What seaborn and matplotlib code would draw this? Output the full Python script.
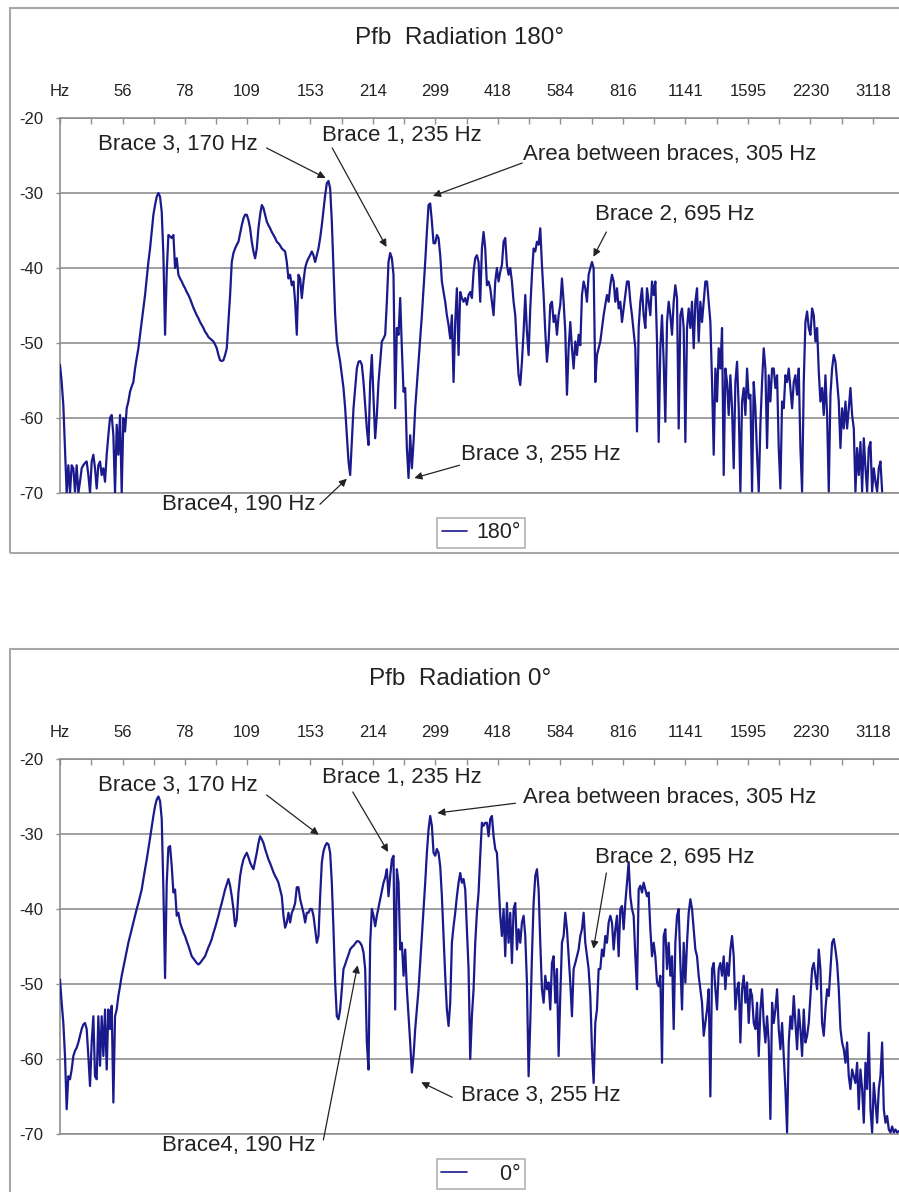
import numpy as np
import pandas as pd
import matplotlib
matplotlib.use('Agg')
import matplotlib.pyplot as plt
from matplotlib.patches import Rectangle
from matplotlib.ticker import FixedLocator, NullFormatter
import seaborn as sns

# frequency axis (log spaced bins, labels every 37.5 bins)
tick_labels = ['Hz', '56', '78', '109', '153', '214', '299', '418', '584',
               '816', '1141', '1595', '2230', '3118']
tick_freqs = [40, 56, 78, 109, 153, 214, 299, 418, 584, 816, 1141, 1595, 2230, 3118]
start_freq = 40
label_ratio = 1.398
bins_per_label = 37.5
y_ticks = [-20, -30, -40, -50, -60, -70]

# level in dB, 180 degrees
db_180 = [
    -52.9, -55.2, -58.3, -64.0, -70.0, -66.3, -70.0, -66.3, -66.7, -69.8,
    -66.3, -70.0, -68.5, -66.7, -66.3, -66.0, -65.8, -67.6, -70.0, -65.8,
    -64.9, -66.7, -69.4, -66.3, -65.8, -67.6, -66.7, -68.5, -64.9, -62.3,
    -60.0, -59.6, -62.3, -70.0, -60.9, -64.9, -59.6, -70.0, -60.0, -61.8,
    -58.7, -57.8, -56.5, -55.8, -55.2, -53.4, -52.0, -50.7, -48.9, -47.2,
    -45.4, -43.6, -41.4, -39.2, -37.4, -35.2, -32.9, -31.6, -30.5, -30.0,
    -30.5, -32.5, -38.3, -48.9, -40.5, -35.6, -35.8, -36.0, -35.6, -40.0,
    -38.7, -40.9, -41.4, -41.8, -42.3, -42.7, -43.2, -43.6, -44.1, -44.7,
    -45.3, -45.8, -46.3, -46.7, -47.2, -47.6, -48.0, -48.5, -48.8, -49.2,
    -49.4, -49.6, -49.8, -50.2, -50.7, -51.6, -52.3, -52.4, -52.3, -51.6,
    -50.7, -47.2, -43.6, -39.2, -38.0, -37.4, -36.9, -36.5, -35.4, -34.3,
    -33.4, -32.9, -32.9, -33.6, -34.7, -36.5, -37.8, -38.7, -37.4, -34.7,
    -32.9, -31.6, -32.0, -32.9, -33.8, -34.3, -34.7, -35.2, -35.6, -36.0,
    -36.5, -36.7, -37.0, -37.4, -37.6, -37.8, -39.2, -41.4, -40.9, -42.3,
    -41.8, -44.5, -48.9, -40.9, -41.4, -44.0, -41.8, -40.0, -39.2, -38.7,
    -38.3, -37.8, -38.3, -39.2, -38.3, -37.4, -36.0, -34.3, -32.3, -30.3,
    -28.7, -28.4, -29.4, -33.8, -40.0, -46.3, -49.8, -51.2, -52.5, -54.3,
    -56.0, -58.7, -62.3, -65.8, -67.6, -63.2, -58.7, -56.0, -53.4, -52.5,
    -52.4, -52.9, -55.2, -58.3, -61.4, -63.6, -55.2, -51.6, -57.4, -62.7,
    -59.6, -55.2, -52.5, -49.8, -49.4, -48.9, -44.5, -39.2, -38.0, -38.7,
    -40.9, -58.7, -48.0, -48.9, -44.0, -50.7, -56.5, -56.0, -64.0, -68.0,
    -62.3, -66.7, -63.2, -58.7, -55.6, -52.5, -49.4, -46.3, -42.7, -39.2,
    -35.2, -31.6, -31.4, -33.8, -36.7, -36.7, -35.6, -36.0, -38.3, -41.8,
    -43.2, -44.5, -46.3, -47.6, -49.4, -46.3, -55.2, -47.2, -42.7, -51.6,
    -43.2, -44.0, -44.5, -44.0, -44.9, -43.6, -43.2, -44.0, -40.5,
    -38.7, -38.3, -39.2, -44.5, -37.4, -35.2, -37.4, -42.3, -41.8, -42.7,
    -44.5, -46.3, -41.8, -40.0, -41.8, -40.5, -39.6, -36.5, -36.0, -39.6,
    -40.9, -40.0, -41.8, -44.5, -46.3, -50.7, -54.3, -55.6, -52.5, -48.5,
    -43.6, -48.5, -51.6, -45.4, -40.9, -37.4, -37.8, -36.5, -36.9, -34.7,
    -39.6, -43.6, -48.5, -52.5, -49.8, -44.9, -44.5, -47.2, -46.3, -48.9,
    -46.3, -44.9, -41.4, -44.5, -48.5, -56.9, -50.7, -47.2, -50.7, -53.4,
    -49.8, -51.6, -48.9, -50.3, -43.6, -41.8, -42.7, -44.5, -40.9, -40.0,
    -39.2, -40.0, -55.2, -51.6, -50.7, -49.8, -48.0, -46.3, -44.9, -43.6,
    -44.5, -42.3, -40.9, -41.8, -44.5, -42.7, -45.4, -44.5, -47.2, -45.4,
    -43.6, -41.8, -41.8, -44.5, -46.3, -48.5, -50.7, -61.8, -48.0, -44.5,
    -42.7, -46.3, -48.0, -42.7, -44.5, -46.3, -41.8, -43.6, -41.8, -49.8,
    -63.2, -50.7, -46.3, -52.5, -60.5, -47.2, -44.5, -46.3, -48.9, -44.5,
    -42.3, -44.0, -61.4, -46.3, -45.4, -48.0, -63.2, -48.0, -45.4, -48.0,
    -44.5, -50.7, -44.5, -42.7, -49.8, -44.5, -47.2, -44.5, -41.8, -41.8,
    -44.5, -47.2, -55.2, -64.9, -53.4, -57.8, -50.7, -53.4, -48.0, -67.6,
    -53.4, -55.2, -59.6, -54.3, -58.7, -66.7, -55.2, -52.5, -58.7, -69.8,
    -57.8, -56.0, -59.6, -53.4, -57.4, -56.9, -69.8, -55.2, -58.7, -64.9,
    -69.8, -60.9, -55.2, -50.7, -53.4, -64.0, -54.3, -57.8, -53.4, -53.4,
    -56.0, -54.3, -64.0, -69.4, -57.8, -58.7, -54.3, -55.2, -53.4, -56.0,
    -58.7, -55.2, -54.3, -56.9, -53.4, -64.0, -69.8, -55.2, -47.2, -45.8,
    -48.0, -48.9, -45.4, -46.3, -49.8, -48.0, -53.8, -57.8, -56.0, -59.6,
    -54.3, -59.6, -69.8, -56.9, -53.4, -51.6, -52.5, -55.2, -57.8, -64.0,
    -58.7, -61.4, -57.8, -61.4, -58.7, -56.0, -59.6, -61.4, -69.8, -64.0,
    -67.6, -63.2, -69.8, -62.7, -66.7, -69.8, -64.0, -63.2, -69.8, -66.7,
    -68.5, -69.8, -66.7, -65.8, -69.8,
]

# level in dB, 0 degrees
db_0 = [
    -49.4, -52.5, -55.2, -59.6, -66.7, -62.3, -62.7, -61.4, -59.6, -58.9,
    -58.5, -57.8, -56.9, -56.0, -55.4, -55.2, -56.0, -59.6, -63.6, -57.8,
    -54.3, -62.3, -62.7, -54.3, -60.9, -54.3, -59.6, -53.4, -61.4, -53.4,
    -56.0, -52.9, -65.8, -54.3, -53.4, -51.6, -50.3, -48.9, -47.8, -46.7,
    -45.6, -44.5, -43.6, -42.7, -41.8, -40.9, -40.0, -39.2, -38.3, -37.4,
    -36.0, -34.7, -33.4, -32.0, -30.5, -28.9, -27.6, -26.3, -25.4, -25.0,
    -25.6, -28.0, -37.4, -49.2, -36.5, -31.8, -31.6, -34.3, -37.8, -37.4,
    -40.9, -40.5, -41.8, -42.5, -43.1, -43.6, -44.3, -44.9, -45.6, -46.3,
    -46.6, -46.9, -47.2, -47.4, -47.2, -46.9, -46.6, -46.3, -45.7, -45.1,
    -44.6, -44.0, -43.2, -42.5, -41.7, -40.9, -40.0, -39.2, -38.3, -37.4,
    -36.7, -36.0, -36.9, -38.3, -40.0, -42.3, -41.4, -37.8, -35.6, -34.3,
    -33.4, -32.9, -32.5, -33.1, -33.8, -34.3, -34.7, -33.6, -32.5, -31.2,
    -30.3, -30.7, -31.2, -32.0, -32.7, -33.4, -33.9, -34.5, -35.1, -35.6,
    -36.0, -36.5, -37.4, -38.3, -40.9, -42.5, -41.8, -40.5, -41.8, -40.5,
    -40.0, -39.2, -37.1, -37.1, -38.7, -39.6, -40.5, -41.8, -40.5, -40.5,
    -40.0, -40.0, -40.9, -42.7, -44.5, -43.6, -38.3, -33.8, -32.3, -31.6,
    -31.2, -31.4, -32.5, -36.5, -42.7, -49.8, -54.3, -54.7, -53.4, -50.7,
    -48.0, -47.4, -46.7, -46.1, -45.4, -45.1, -44.9, -44.6, -44.3, -44.3,
    -44.5, -44.9, -45.8, -48.0, -57.8, -61.4, -44.5, -40.0, -40.9, -42.3,
    -40.9, -39.8, -38.7, -37.6, -36.5, -35.8, -34.7, -38.3, -35.6, -33.4,
    -32.9, -53.4, -34.7, -36.5, -45.4, -44.5, -48.9, -45.4, -50.7, -54.3,
    -57.8, -61.8, -59.6, -56.0, -53.4, -50.7, -47.2, -43.6, -40.0, -36.5,
    -32.5, -29.4, -27.6, -28.9, -32.5, -32.9, -32.0, -32.5, -34.3, -38.3,
    -43.6, -48.9, -53.4, -55.6, -52.5, -44.5, -42.3, -40.5, -38.3, -36.5,
    -35.2, -36.5, -36.0, -37.4, -42.7, -48.0, -60.0, -54.3, -50.7,
    -44.5, -40.5, -37.8, -32.9, -28.5, -28.9, -28.5, -28.5, -30.3, -28.0,
    -27.6, -30.3, -32.0, -32.5, -36.5, -40.9, -43.6, -40.0, -46.3, -39.2,
    -44.5, -40.5, -47.2, -40.0, -39.2, -45.4, -42.7, -44.5, -41.8, -40.9,
    -43.6, -49.8, -62.3, -55.2, -46.3, -39.2, -35.6, -34.7, -37.4, -44.5,
    -50.7, -52.5, -48.9, -50.7, -49.8, -53.4, -47.2, -46.3, -52.5, -48.0,
    -59.6, -51.6, -44.5, -43.6, -40.5, -42.7, -46.3, -49.8, -54.3, -48.0,
    -47.2, -46.3, -45.4, -43.6, -42.7, -40.5, -44.5, -46.3, -48.0, -51.6,
    -58.7, -63.2, -55.2, -53.4, -48.0, -48.0, -45.4, -46.3, -43.6, -44.5,
    -41.8, -40.9, -41.8, -45.4, -42.7, -40.9, -46.3, -40.0, -39.6, -42.7,
    -39.2, -36.5, -33.8, -38.3, -40.0, -40.9, -46.3, -50.7, -37.4, -36.9,
    -37.8, -36.5, -37.4, -38.3, -37.8, -42.7, -46.3, -44.5, -46.3, -49.8,
    -50.3, -48.9, -60.5, -43.6, -42.7, -48.0, -44.5, -48.9, -46.3, -56.0,
    -44.5, -40.9, -40.0, -47.2, -53.4, -44.5, -49.8, -44.5, -40.5, -38.7,
    -40.0, -42.7, -45.4, -46.3, -48.9, -50.7, -52.5, -56.9, -55.2, -53.4,
    -50.7, -65.0, -48.0, -47.2, -50.7, -53.4, -48.0, -47.2, -48.9, -46.3,
    -50.7, -47.2, -48.9, -45.4, -43.6, -46.3, -53.4, -50.7, -49.8, -57.8,
    -50.7, -48.9, -52.5, -49.8, -55.2, -50.7, -51.6, -55.2, -56.0, -52.5,
    -59.6, -53.4, -50.7, -55.2, -57.8, -54.3, -57.8, -68.0, -52.5, -55.2,
    -53.4, -50.7, -56.0, -58.7, -55.2, -59.6, -64.0, -69.8, -57.8, -54.3,
    -56.0, -51.6, -55.2, -58.7, -53.4, -56.0, -59.6, -53.4, -57.8, -56.9,
    -55.2, -51.6, -48.0, -47.2, -48.9, -50.7, -45.4, -48.0, -55.2, -56.9,
    -53.4, -50.7, -51.6, -48.0, -44.5, -44.0, -45.4, -47.2, -50.7, -56.0,
    -57.8, -58.7, -60.5, -57.8, -62.3, -64.0, -61.4, -62.3, -63.2, -60.5,
    -66.7, -61.4, -64.0, -68.5, -60.5, -64.0, -56.5, -66.7, -69.8, -63.2,
    -65.8, -68.5, -64.0, -62.3, -57.8, -66.7, -68.5, -67.6, -69.4, -69.8,
    -69.0, -69.8, -69.4, -69.8, -69.6,
]

# annotations: (text, text pos (Hz, dB), arrow start (Hz, dB), arrow tip (Hz, dB))
notes_180 = [
    ('Brace 3, 170 Hz', (49, -23.5), (121, -24.0), (166, -28.0)),
    ('Brace 1, 235 Hz', (163, -22.4), (172, -24.0), (230, -37.2)),
    ('Area between braces, 305 Hz', (479, -24.9), (476, -26.0), (295, -30.4)),
    ('Brace 2, 695 Hz', (704, -32.9), (747, -35.2), (697, -38.5)),
    ('Brace4, 190 Hz', (69, -71.5), (161, -71.5), (186, -68.1)),
    ('Brace 3, 255 Hz', (342, -64.9), (340, -66.3), (267, -68.0)),
]
notes_0 = [
    ('Brace 3, 170 Hz', (49, -23.5), (121, -24.8), (160, -30.1)),
    ('Brace 1, 235 Hz', (163, -22.4), (192, -24.4), (232, -32.4)),
    ('Area between braces, 305 Hz', (479, -25.1), (459, -25.9), (302, -27.2)),
    ('Brace 2, 695 Hz', (704, -33.1), (747, -35.2), (697, -45.3)),
    ('Brace4, 190 Hz', (69, -71.5), (164, -70.8), (197, -47.5)),
    ('Brace 3, 255 Hz', (342, -64.8), (327, -65.1), (277, -63.1)),
]

NAVY = '#1a1a8c'
GRID = '#8f8f8f'
TEXT = '#222222'
W, H = 899, 1192

sns.set_theme(style='white')
plt.rcParams['font.family'] = ['Liberation Sans', 'DejaVu Sans']
plt.rcParams['axes.unicode_minus'] = False


def spectrum_df(values):
    '''bin frequencies are log spaced, values as read'''
    n = len(values)
    freq = start_freq * label_ratio ** (np.arange(n) / bins_per_label)
    return pd.DataFrame({'freq': freq, 'db': values})


def px_rect(x0, y0, x1, y1):
    return [x0 / W, 1 - y1 / H, (x1 - x0) / W, (y1 - y0) / H]


def draw_panel(fig, ax, df, title, label, box_top, notes):
    # outer chart border
    fig.add_artist(Rectangle((10 / W, 1 - (box_top + 545) / H), 0.99, 545 / H,
                             transform=fig.transFigure, fill=False,
                             edgecolor='#a8a8a8', lw=1.5))
    fig.text(460 / W, 1 - (box_top + 30) / H, title, ha='center', va='center',
             fontsize=17.5, color=TEXT)

    sns.lineplot(data=df, x='freq', y='db', ax=ax, color=NAVY, lw=1.6,
                 estimator=None, sort=False, label=label, zorder=3)

    ax.set_xscale('log')
    ax.set_xlim(40, 3700)
    ax.set_ylim(-70, -20)
    ax.set_xlabel('')
    ax.set_ylabel('')

    # frequency labels on top
    ax.xaxis.tick_top()
    ax.set_xticks(tick_freqs)
    ax.set_xticklabels(tick_labels)
    mids = [np.sqrt(a * b) for a, b in zip(tick_freqs, tick_freqs[1:] + [4360])]
    ax.xaxis.set_minor_locator(FixedLocator(mids))
    ax.xaxis.set_minor_formatter(NullFormatter())
    ax.tick_params(axis='x', which='both', direction='in', length=4, width=1,
                   color=GRID, pad=14, labelsize=12, labelcolor=TEXT)
    ax.set_yticks(y_ticks)
    ax.tick_params(axis='y', direction='out', length=3, width=1, color=GRID,
                   pad=9, labelsize=12, labelcolor=TEXT, left=True)

    ax.grid(axis='y', color=GRID, lw=1.2)
    ax.grid(axis='x', visible=False)
    for side in ['top', 'bottom', 'left']:
        ax.spines[side].set_color(GRID)
        ax.spines[side].set_linewidth(1.2)
    ax.spines['right'].set_visible(False)

    for txt, tpos, start, tip in notes:
        ax.text(tpos[0], tpos[1], txt, ha='left', va='center', fontsize=16,
                color=TEXT, zorder=2, clip_on=False)
        ax.annotate('', xy=tip, xytext=start, annotation_clip=False,
                    arrowprops=dict(arrowstyle='-|>', color=TEXT, lw=0.9,
                                    mutation_scale=11, shrinkA=0, shrinkB=0))

    leg = ax.legend(loc='center', bbox_to_anchor=(481 / W, 1 - (box_top + 525) / H),
                    bbox_transform=fig.transFigure, frameon=True, fancybox=False,
                    edgecolor='#a0a0a0', fontsize=15.5, handlelength=1.2,
                    handletextpad=0.4, borderpad=0.22, borderaxespad=0)
    leg.get_frame().set_linewidth(1.2)
    for line in leg.get_lines():
        line.set_linewidth(1.2)
    for t in leg.get_texts():
        t.set_color(TEXT)


fig = plt.figure(figsize=(W / 100, H / 100), dpi=100)
ax1 = fig.add_axes(px_rect(60, 118, 905, 493))
ax2 = fig.add_axes(px_rect(60, 759, 905, 1134))

draw_panel(fig, ax1, spectrum_df(db_180), 'Pfb  Radiation 180°', '180°', 8, notes_180)
draw_panel(fig, ax2, spectrum_df(db_0), 'Pfb  Radiation 0°', '    0°', 649, notes_0)

fig.savefig('out.png', dpi=100)
